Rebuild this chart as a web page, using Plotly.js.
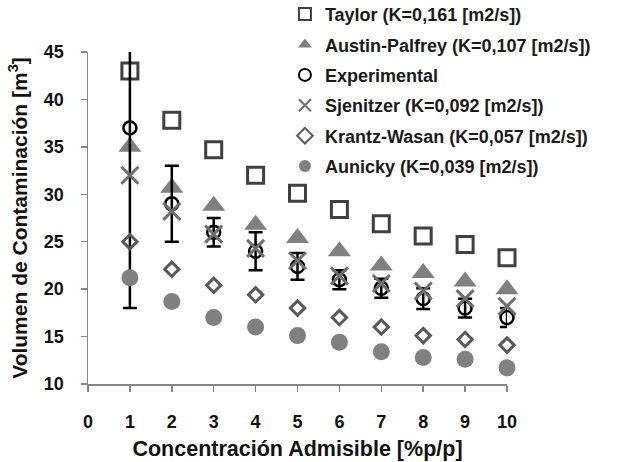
<!DOCTYPE html>
<html>
<head>
<meta charset="utf-8">
<script src="https://cdn.plot.ly/plotly-3.0.1.min.js"></script>
<style>html,body{margin:0;padding:0;background:#fff}</style>
</head>
<body>
<div id="chart" style="width:618px;height:462px"></div>
<script>
const xValues = [1, 2, 3, 4, 5, 6, 7, 8, 9, 10];
const taylor = [43, 37.8, 34.7, 32, 30.1, 28.4, 26.9, 25.6, 24.7, 23.3];
const austin = [35, 30.7, 28.8, 26.8, 25.4, 24, 22.5, 21.7, 20.8, 20];
const experimental = [37, 29, 26, 24, 22.4, 21, 20.1, 19, 18, 17];
const expErrPlus = [19, 4, 1.5, 2, 1.4, 1, 1, 1.1, 1, 1];
const expErrMinus = [19, 4, 1.5, 2, 1.4, 1, 1, 1.1, 1, 1];
const sjenitzer = [32, 28.2, 25.8, 24.3, 23, 21.4, 20.6, 19.8, 19, 18.2];
const krantz = [25, 22.1, 20.4, 19.4, 18, 17, 16, 15.1, 14.7, 14.1];
const aunicky = [21.2, 18.7, 17, 16, 15.1, 14.4, 13.4, 12.8, 12.6, 11.7];
const names = [
  'Taylor (K=0,161 [m2/s])',
  'Austin-Palfrey (K=0,107 [m2/s])',
  'Experimental',
  'Sjenitzer (K=0,092 [m2/s])',
  'Krantz-Wasan (K=0,057 [m2/s])',
  'Aunicky (K=0,039 [m2/s])'
];
const xTitle = 'Concentración Admisible [%p/p]';
const yTitle = 'Volumen de Contaminación [m<sup>3</sup>]';

const FONT = '"Liberation Sans", Arial, sans-serif';

const traces = [
  {x: xValues, y: taylor, name: names[0], mode: 'markers', type: 'scatter', cliponaxis: false, legendgroup: 'a',
   marker: {symbol: 'square-open', size: 16, color: '#404040', line: {width: 3, color: '#404040'}}},
  {x: xValues, y: austin, name: names[1], mode: 'markers', type: 'scatter', cliponaxis: false, legendgroup: 'b',
   marker: {symbol: 'triangle-up', size: 20, color: '#808080'}},
  {x: xValues, y: experimental, mode: 'markers', type: 'scatter', cliponaxis: true, showlegend: false, hoverinfo: 'skip',
   marker: {size: 1, opacity: 0},
   error_y: {type: 'data', symmetric: false, array: expErrPlus, arrayminus: expErrMinus, color: '#000000', thickness: 2.5, width: 7}},
  {x: xValues, y: experimental, name: names[2], mode: 'markers', type: 'scatter', cliponaxis: false, legendgroup: 'c',
   marker: {symbol: 'circle-open', size: 13, color: '#000000', line: {width: 2.5, color: '#000000'}}},
  {x: xValues, y: sjenitzer, name: names[3], mode: 'markers', type: 'scatter', cliponaxis: false, legendgroup: 'd',
   marker: {symbol: 'x-thin-open', size: 17, color: '#6e6e6e', line: {width: 3, color: '#6e6e6e'}}},
  {x: xValues, y: krantz, name: names[4], mode: 'markers', type: 'scatter', cliponaxis: false, legendgroup: 'e',
   marker: {symbol: 'diamond-open', size: 11, color: '#595959', line: {width: 3, color: '#595959'}}},
  {x: xValues, y: aunicky, name: names[5], mode: 'markers', type: 'scatter', cliponaxis: false, legendgroup: 'f',
   marker: {symbol: 'circle', size: 17, color: '#808080'}}
];

const layout = {
  width: 618, height: 462,
  margin: {l: 88, r: 111, t: 52, b: 78, pad: 0, autoexpand: false},
  paper_bgcolor: '#ffffff', plot_bgcolor: '#ffffff',
  font: {family: FONT, color: '#111111', size: 18, weight: 700},
  showlegend: true,
  legend: {x: 0.470, y: 1.169, xanchor: 'left', yanchor: 'top', bgcolor: 'rgba(0,0,0,0)',
           font: {family: FONT, size: 18, color: '#1a1a1a', weight: 700}, tracegroupgap: 4, itemsizing: 'constant'},
  xaxis: {
    range: [0, 10], tickmode: 'array', tickvals: [0,1,2,3,4,5,6,7,8,9,10],
    showgrid: false, zeroline: false, showline: true, linecolor: '#868686', linewidth: 1.5,
    ticks: 'outside', ticklen: 6, tickwidth: 1.5, tickcolor: '#868686', ticklabelstandoff: 15,
    tickfont: {family: FONT, size: 18, color: '#111111', weight: 700},
    title: {text: xTitle, font: {family: FONT, size: 21.5, color: '#111111', weight: 700}, standoff: 10}
  },
  yaxis: {
    range: [10, 45], tickmode: 'array', tickvals: [10,15,20,25,30,35,40,45],
    showgrid: false, zeroline: false, showline: true, linecolor: '#868686', linewidth: 1.5,
    ticks: 'outside', ticklen: 6, tickwidth: 1.5, tickcolor: '#868686', ticklabelstandoff: 13,
    tickfont: {family: FONT, size: 18, color: '#111111', weight: 700},
    title: {text: yTitle, font: {family: FONT, size: 21, color: '#111111', weight: 700}, standoff: 10}
  }
};

Plotly.newPlot('chart', traces, layout, {displayModeBar: false, staticPlot: true});
</script>
</body>
</html>
